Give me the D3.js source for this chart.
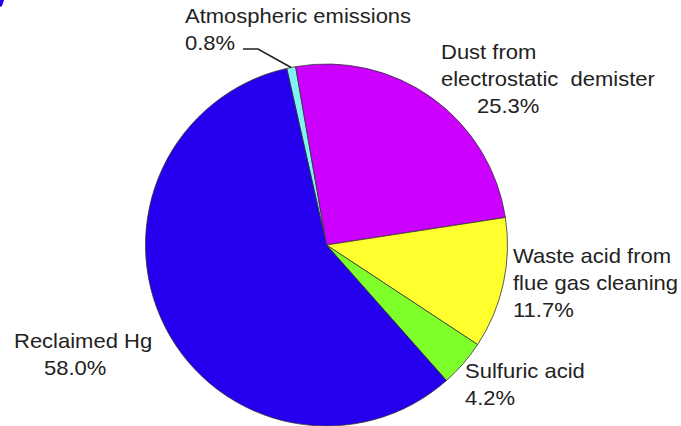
<!DOCTYPE html>
<html>
<head>
<meta charset="utf-8">
<script src="https://cdn.jsdelivr.net/npm/d3@7/dist/d3.min.js"></script>
<style>
  html, body { margin: 0; padding: 0; background: #fff; }
  svg { display: block; }
  text { font-family: "Liberation Sans", Arial, sans-serif; fill: #222; }
</style>
</head>
<body>
<svg id="chart" width="681" height="426"></svg>
<script>
// Mercury distribution among output streams (percent)
const categories = [
  "Atmospheric emissions",
  "Dust from electrostatic demister",
  "Waste acid from flue gas cleaning",
  "Sulfuric acid",
  "Reclaimed Hg"
];
const shares = [0.8, 25.3, 11.7, 4.2, 58.0];
const sliceColors = ["#80F4F4", "#CC00FF", "#FFFF2E", "#7FFF2A", "#2400EE"];

// Label lines per category (drawn as separate rows)
const labelLines = [
  ["Atmospheric emissions", "0.8%"],
  ["Dust from", "electrostatic  demister", "25.3%"],
  ["Waste acid from", "flue gas cleaning", "11.7%"],
  ["Sulfuric acid", "4.2%"],
  ["Reclaimed Hg", "58.0%"]
];

const svg = d3.select("#chart");
const cx = 326.5, cy = 245, r = 181;
const start = -12.7 * Math.PI / 180;

const pie = d3.pie().sort(null).value(d => d)
  .startAngle(start).endAngle(start + 2 * Math.PI);
const arc = d3.arc().innerRadius(0).outerRadius(r);
const arcs = pie(shares);

const g = svg.append("g").attr("transform", `translate(${cx},${cy})`);
g.selectAll("path.slice")
  .data(arcs)
  .join("path")
  .attr("class", "slice")
  .attr("d", arc)
  .attr("fill", (d, i) => sliceColors[i])
  .attr("stroke", "#333")
  .attr("stroke-width", 0.8)
  .attr("stroke-linejoin", "round");

// Label blocks: anchor position and per-line indent
const labelPos = [
  { x: 185, y: 23, indent: [0, 0] },
  { x: 441, y: 59, indent: [0, 0, 36] },
  { x: 513, y: 263, indent: [0, 0, 0] },
  { x: 465, y: 378, indent: [0, 0] },
  { x: 14, y: 348, indent: [0, 30] }
];
const lineGap = 27;
const stretch = 1.1;   // slightly wide lettering

labelLines.forEach((lines, i) => {
  const p = labelPos[i];
  const t = svg.append("text")
    .attr("font-size", 20)
    .attr("transform", `translate(${p.x},${p.y}) scale(${stretch},1)`);
  lines.forEach((s, j) => {
    t.append("tspan")
      .attr("x", p.indent[j] / stretch)
      .attr("y", j * lineGap)
      .style("white-space", "pre")
      .text(s);
  });
});

// Leader line from the small atmospheric slice to its label
const a0 = arcs[0];
const mid = (a0.startAngle + a0.endAngle) / 2;
const tip = [cx + r * Math.sin(mid), cy - r * Math.cos(mid)];
svg.append("path")
  .attr("d", d3.line()([[243, 49], [258, 49], tip]))
  .attr("fill", "none")
  .attr("stroke", "#222")
  .attr("stroke-width", 1.6);

// Corner fragment of the panel marker
svg.append("path")
  .attr("d", "M0,0 L4,0 L2,6 L0,7 Z")
  .attr("fill", "#2400EE");
</script>
</body>
</html>
